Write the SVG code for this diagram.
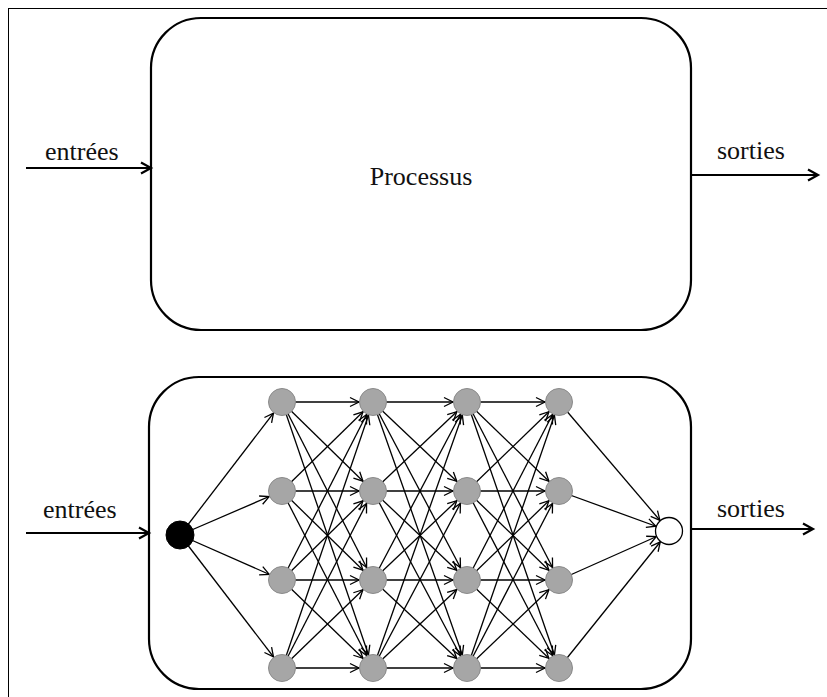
<svg xmlns="http://www.w3.org/2000/svg" width="827" height="697" viewBox="0 0 827 697">
<defs>
<style>
.frame{fill:none;stroke:#000;stroke-width:1}
.box{fill:#fff;stroke:#000;stroke-width:2.2}
.io{fill:none;stroke:#000;stroke-width:2.2}
.e{stroke:#000;stroke-width:1.3;fill:none;marker-end:url(#a)}
.g{fill:#a6a6a6;stroke:#8a8a8a;stroke-width:1}
.t{font-size:26px;fill:#111}
</style>
<marker id="a" markerUnits="userSpaceOnUse" markerWidth="30" markerHeight="12" refX="24" refY="6" orient="auto" overflow="visible">
<path d="M1,1.5 L10,6 L1,10.5" fill="none" stroke="#000" stroke-width="1.3"/>
</marker>
<marker id="b" markerUnits="userSpaceOnUse" markerWidth="14" markerHeight="14" refX="11" refY="7" orient="auto" overflow="visible">
<path d="M1,1.5 L11,7 L1,12.5" fill="none" stroke="#000" stroke-width="2.2"/>
</marker>
</defs>
<rect width="827" height="697" fill="#fff"/>
<rect class="frame" x="8.5" y="8.5" width="900" height="900"/>

<g id="processus">
<rect class="box" x="151" y="18" width="540" height="312" rx="50" ry="50"/>
<text class="t" font-family="'Liberation Serif', 'DejaVu Serif', serif" x="421" y="185" text-anchor="middle">Processus</text>
</g>

<g id="reseau">
<rect class="box" x="149" y="377" width="542" height="312" rx="50" ry="50"/>
</g>

<g id="connecteurs">
<line class="io" x1="26" y1="168" x2="151" y2="168" marker-end="url(#b)"/>
<line class="io" x1="691" y1="175" x2="818" y2="175" marker-end="url(#b)"/>
<line class="io" x1="26" y1="533" x2="149" y2="533" marker-end="url(#b)"/>
<line class="io" x1="691" y1="529" x2="813" y2="529" marker-end="url(#b)"/>

<line class="e" x1="180" y1="535" x2="282" y2="402"/>
<line class="e" x1="180" y1="535" x2="282" y2="491"/>
<line class="e" x1="180" y1="535" x2="282" y2="580"/>
<line class="e" x1="180" y1="535" x2="282" y2="668"/>

<line class="e" x1="282" y1="402" x2="373" y2="402"/>
<line class="e" x1="282" y1="402" x2="373" y2="491"/>
<line class="e" x1="282" y1="402" x2="373" y2="580"/>
<line class="e" x1="282" y1="402" x2="373" y2="668"/>
<line class="e" x1="282" y1="491" x2="373" y2="402"/>
<line class="e" x1="282" y1="491" x2="373" y2="491"/>
<line class="e" x1="282" y1="491" x2="373" y2="580"/>
<line class="e" x1="282" y1="491" x2="373" y2="668"/>
<line class="e" x1="282" y1="580" x2="373" y2="402"/>
<line class="e" x1="282" y1="580" x2="373" y2="491"/>
<line class="e" x1="282" y1="580" x2="373" y2="580"/>
<line class="e" x1="282" y1="580" x2="373" y2="668"/>
<line class="e" x1="282" y1="668" x2="373" y2="402"/>
<line class="e" x1="282" y1="668" x2="373" y2="491"/>
<line class="e" x1="282" y1="668" x2="373" y2="580"/>
<line class="e" x1="282" y1="668" x2="373" y2="668"/>

<line class="e" x1="373" y1="402" x2="467" y2="402"/>
<line class="e" x1="373" y1="402" x2="467" y2="491"/>
<line class="e" x1="373" y1="402" x2="467" y2="580"/>
<line class="e" x1="373" y1="402" x2="467" y2="668"/>
<line class="e" x1="373" y1="491" x2="467" y2="402"/>
<line class="e" x1="373" y1="491" x2="467" y2="491"/>
<line class="e" x1="373" y1="491" x2="467" y2="580"/>
<line class="e" x1="373" y1="491" x2="467" y2="668"/>
<line class="e" x1="373" y1="580" x2="467" y2="402"/>
<line class="e" x1="373" y1="580" x2="467" y2="491"/>
<line class="e" x1="373" y1="580" x2="467" y2="580"/>
<line class="e" x1="373" y1="580" x2="467" y2="668"/>
<line class="e" x1="373" y1="668" x2="467" y2="402"/>
<line class="e" x1="373" y1="668" x2="467" y2="491"/>
<line class="e" x1="373" y1="668" x2="467" y2="580"/>
<line class="e" x1="373" y1="668" x2="467" y2="668"/>

<line class="e" x1="467" y1="402" x2="559" y2="402"/>
<line class="e" x1="467" y1="402" x2="559" y2="491"/>
<line class="e" x1="467" y1="402" x2="559" y2="580"/>
<line class="e" x1="467" y1="402" x2="559" y2="668"/>
<line class="e" x1="467" y1="491" x2="559" y2="402"/>
<line class="e" x1="467" y1="491" x2="559" y2="491"/>
<line class="e" x1="467" y1="491" x2="559" y2="580"/>
<line class="e" x1="467" y1="491" x2="559" y2="668"/>
<line class="e" x1="467" y1="580" x2="559" y2="402"/>
<line class="e" x1="467" y1="580" x2="559" y2="491"/>
<line class="e" x1="467" y1="580" x2="559" y2="580"/>
<line class="e" x1="467" y1="580" x2="559" y2="668"/>
<line class="e" x1="467" y1="668" x2="559" y2="402"/>
<line class="e" x1="467" y1="668" x2="559" y2="491"/>
<line class="e" x1="467" y1="668" x2="559" y2="580"/>
<line class="e" x1="467" y1="668" x2="559" y2="668"/>

<line class="e" x1="559" y1="402" x2="669" y2="531"/>
<line class="e" x1="559" y1="491" x2="669" y2="531"/>
<line class="e" x1="559" y1="580" x2="669" y2="531"/>
<line class="e" x1="559" y1="668" x2="669" y2="531"/>
</g>

<g id="labels" font-family="'Liberation Serif', 'DejaVu Serif', serif">
<text class="t" x="45" y="160">entrées</text>
<text class="t" x="717" y="159">sorties</text>
<text class="t" x="43" y="518">entrées</text>
<text class="t" x="717" y="517">sorties</text>
</g>

<g id="n-entree"><circle cx="180" cy="535" r="14" fill="#000" stroke="#000" stroke-width="1"/></g>
<g id="n-1-1"><circle class="g" cx="282" cy="402" r="13.5"/></g>
<g id="n-1-2"><circle class="g" cx="282" cy="491" r="13.5"/></g>
<g id="n-1-3"><circle class="g" cx="282" cy="580" r="13.5"/></g>
<g id="n-1-4"><circle class="g" cx="282" cy="668" r="13.5"/></g>
<g id="n-2-1"><circle class="g" cx="373" cy="402" r="13.5"/></g>
<g id="n-2-2"><circle class="g" cx="373" cy="491" r="13.5"/></g>
<g id="n-2-3"><circle class="g" cx="373" cy="580" r="13.5"/></g>
<g id="n-2-4"><circle class="g" cx="373" cy="668" r="13.5"/></g>
<g id="n-3-1"><circle class="g" cx="467" cy="402" r="13.5"/></g>
<g id="n-3-2"><circle class="g" cx="467" cy="491" r="13.5"/></g>
<g id="n-3-3"><circle class="g" cx="467" cy="580" r="13.5"/></g>
<g id="n-3-4"><circle class="g" cx="467" cy="668" r="13.5"/></g>
<g id="n-4-1"><circle class="g" cx="559" cy="402" r="13.5"/></g>
<g id="n-4-2"><circle class="g" cx="559" cy="491" r="13.5"/></g>
<g id="n-4-3"><circle class="g" cx="559" cy="580" r="13.5"/></g>
<g id="n-4-4"><circle class="g" cx="559" cy="668" r="13.5"/></g>
<g id="n-sortie"><circle cx="669" cy="531" r="13.5" fill="#fff" stroke="#000" stroke-width="1.3"/></g>
</svg>
